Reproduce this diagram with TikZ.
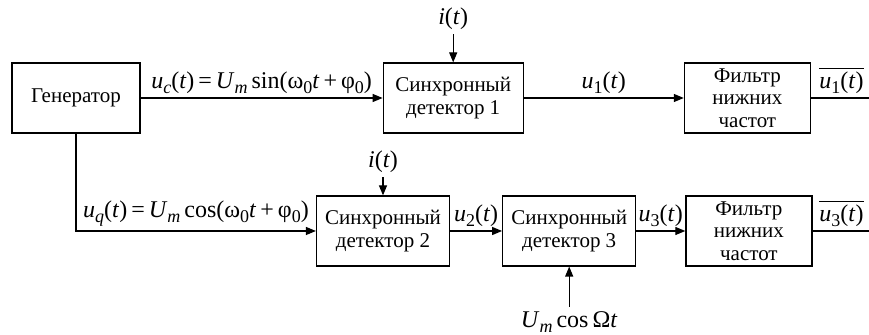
\documentclass[tikz,border=0pt]{standalone}
\usepackage{fontspec}
\setmainfont{Liberation Serif}
\usetikzlibrary{arrows.meta,positioning}
\newcommand{\sub}[1]{\raisebox{-0.45ex}{\fontsize{9}{9}\selectfont #1}}
\newcommand{\sig}[2]{\textit{#1}\sub{#2}}
\newcommand{\avg}[1]{$\overline{\mbox{#1}}$}

\begin{document}
\begin{tikzpicture}[x=0.5pt,y=-0.5pt,>={Triangle[length=5pt,width=4pt]},line width=0.6pt,
  font=\rmfamily\fontsize{10.5}{11.3}\selectfont,
  block/.style={draw,minimum width=64pt,minimum height=35pt,align=center,inner sep=0pt},
  lbl/.style={font=\fontsize{12}{14}\selectfont,inner sep=2pt}]
\useasboundingbox (0,0) rectangle (869,335);
\node[block] (gen) at (76,98) {Генератор};
\node[block, minimum width=70pt, right=121pt of gen] (sd1) {Синхронный\\детектор 1};
\node[block, minimum width=63pt, right=80pt of sd1] (lpf1) {Фильтр\\нижних\\частот};
\coordinate[right=30.5pt of lpf1] (out1);
\node[lbl, above=14pt of sd1] (i1) {\textit{i}(\textit{t})};
\node[block, minimum width=66.5pt] (sd2) at (383,231) {Синхронный\\детектор 2};
\node[block, minimum width=66.5pt, right=26pt of sd2] (sd3) {Синхронный\\детектор 3};
\node[block, minimum width=63pt, right=24.5pt of sd3] (lpf2) {Фильтр\\нижних\\частот};
\coordinate[right=29pt of lpf2] (out2);
\node[lbl, above=9pt of sd2] (i2) {\textit{i}(\textit{t})};
\node[lbl, below=20pt of sd3] (ref) {\sig{U}{\textit{m}}\,cos\,Ω\textit{t}};
\draw[->] (gen) -- node[lbl,above] {\sig{u}{\textit{c}}(\textit{t})\,=\,\sig{U}{\textit{m}}\,sin(ω\sub{0}\textit{t}\,+\,φ\sub{0})} (sd1);
\draw[->] (i1) -- (sd1);
\draw[->] (sd1) -- node[lbl,above] {\sig{u}{1}(\textit{t})} (lpf1);
\draw (lpf1) -- node[lbl,above] {\avg{\sig{u}{1}(\textit{t})}} (out1);
\draw[->] (gen) |- node[lbl,pos=0.75,above] {\sig{u}{\textit{q}}(\textit{t})\,=\,\sig{U}{\textit{m}}\,cos(ω\sub{0}\textit{t}\,+\,φ\sub{0})} (sd2);
\draw[->] (i2) -- (sd2);
\draw[->] (sd2) -- node[lbl,above] {\sig{u}{2}(\textit{t})} (sd3);
\draw[->] (ref) -- (sd3);
\draw[->] (sd3) -- node[lbl,above] {\sig{u}{3}(\textit{t})} (lpf2);
\draw (lpf2) -- node[lbl,above] {\avg{\sig{u}{3}(\textit{t})}} (out2);
\end{tikzpicture}
\end{document}
